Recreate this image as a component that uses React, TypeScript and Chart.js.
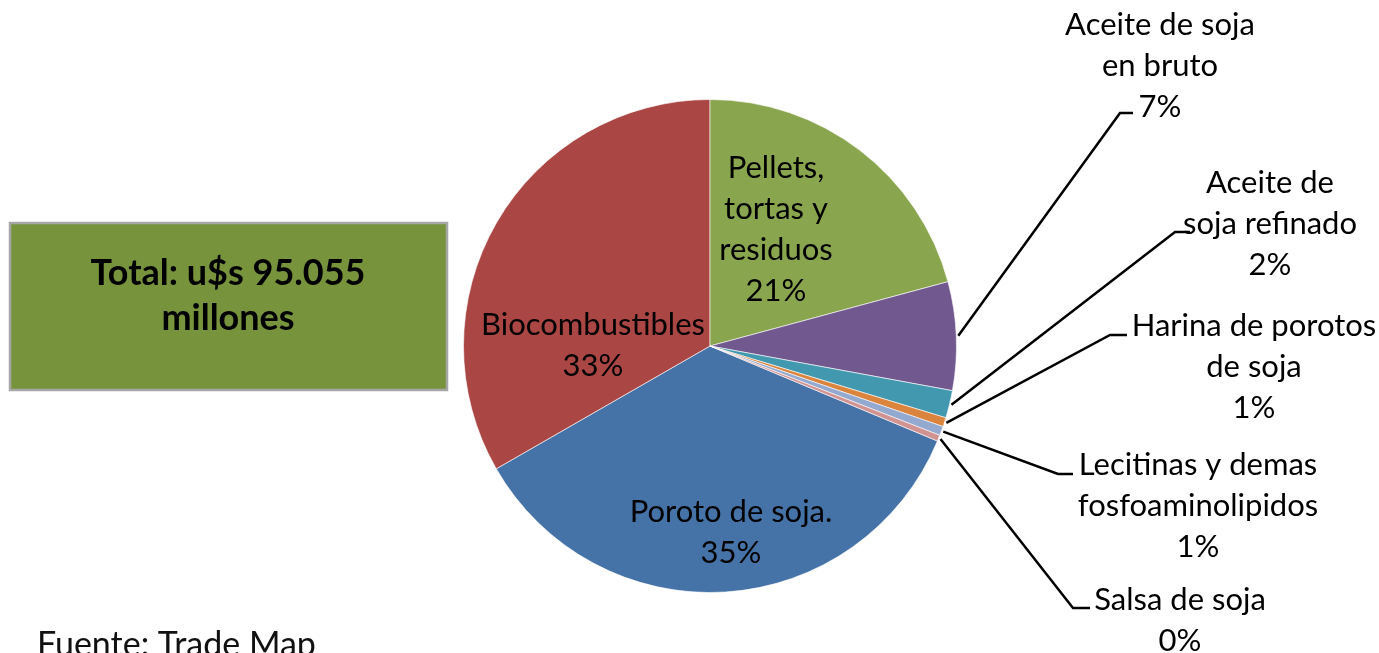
import React, { useEffect, useRef } from 'react';
import { Chart, registerables } from 'chart.js';
Chart.register(...registerables);

// ---- Data ----
const categories = [
  'Poroto de soja.',
  'Biocombustibles',
  'Pellets, tortas y residuos',
  'Aceite de soja en bruto',
  'Aceite de soja refinado',
  'Harina de porotos de soja',
  'Lecitinas y demas fosfoaminolipidos',
  'Salsa de soja',
];
const labelLines = [
  ['Poroto de soja.'],
  ['Biocombustibles'],
  ['Pellets,', 'tortas y', 'residuos'],
  ['Aceite de soja', 'en bruto'],
  ['Aceite de', 'soja refinado'],
  ['Harina de porotos', 'de soja'],
  ['Lecitinas y demas', 'fosfoaminolipidos'],
  ['Salsa de soja'],
];
const shares = [35.4, 33.3, 20.8, 7.1, 1.8, 0.6, 0.6, 0.4];
const colors = ['#4572A7', '#AA4643', '#89A54E', '#71588F', '#4198AF', '#DB843D', '#93A9CF', '#D19392'];
const totalText = ['Total: u$s 95.055', 'millones'];
const sourceText = 'Fuente: Trade Map';

// ---- Label layout (text positions, not marks) ----
type Lay = { x: number; y: number; elbow?: [number, number]; end?: [number, number] };
const labelLayout: Lay[] = [
  { x: 731, y: 512 },
  { x: 593, y: 325 },
  { x: 776, y: 168 },
  { x: 1160, y: 25, elbow: [1120, 113], end: [1133, 113] },
  { x: 1270, y: 183, elbow: [1175, 232], end: [1190, 232] },
  { x: 1254, y: 326, elbow: [1110, 335], end: [1127, 335] },
  { x: 1198, y: 465, elbow: [1058, 474], end: [1073, 474] },
  { x: 1180, y: 600, elbow: [1073, 608], end: [1090, 608] },
];
const LINE_H = 41;
const FONT = '31px Lato';

const overlayPlugin = {
  id: 'overlay',
  afterDraw(chart: any) {
    const ctx = chart.ctx as CanvasRenderingContext2D;
    const meta = chart.getDatasetMeta(0);
    const data = chart.data.datasets[0].data as number[];
    const total = data.reduce((a, b) => a + b, 0);
    ctx.save();
    // labels
    meta.data.forEach((arc: any, i: number) => {
      const p = arc.getProps(['x', 'y', 'startAngle', 'endAngle', 'outerRadius'], true);
      const lay = labelLayout[i];
      const pct = Math.round((data[i] / total) * 100) + '%';
      const lines = [...labelLines[i], pct];
      if (lay.elbow && lay.end) {
        const mid = (p.startAngle + p.endAngle) / 2;
        const sx = p.x + Math.cos(mid) * (p.outerRadius + 2);
        const sy = p.y + Math.sin(mid) * (p.outerRadius + 2);
        ctx.strokeStyle = '#000';
        ctx.lineWidth = 2.5;
        ctx.beginPath();
        ctx.moveTo(sx, sy);
        ctx.lineTo(lay.elbow[0], lay.elbow[1]);
        ctx.lineTo(lay.end[0], lay.end[1]);
        ctx.stroke();
      }
      ctx.fillStyle = '#000';
      ctx.font = FONT;
      ctx.textAlign = 'center';
      ctx.textBaseline = 'middle';
      lines.forEach((t, k) => ctx.fillText(t, lay.x, lay.y + k * LINE_H));
    });
    // total box
    ctx.fillStyle = '#77933C';
    ctx.fillRect(10, 223, 437, 167);
    ctx.strokeStyle = '#A6A6A6';
    ctx.lineWidth = 2.5;
    ctx.strokeRect(10, 223, 437, 167);
    ctx.fillStyle = '#000';
    ctx.font = 'bold 36px Lato';
    ctx.textAlign = 'center';
    ctx.textBaseline = 'middle';
    ctx.fillText(totalText[0], 228, 273);
    ctx.fillText(totalText[1], 228, 318);
    // source
    ctx.font = '34px Lato';
    ctx.textAlign = 'left';
    ctx.textBaseline = 'alphabetic';
    ctx.fillStyle = '#111';
    ctx.fillText(sourceText, 37, 656);
    ctx.restore();
  },
};

export default function App() {
  const ref = useRef<HTMLCanvasElement>(null);
  useEffect(() => {
    document.body.style.margin = '0';
    const total = shares.reduce((a, b) => a + b, 0);
    const rotation = -((shares[0] + shares[1]) / total) * 360;
    const chart = new Chart(ref.current!, {
      type: 'pie',
      data: {
        labels: categories,
        datasets: [
          {
            data: shares,
            backgroundColor: colors,
            borderColor: 'rgba(255,255,255,0.6)',
            borderWidth: 1,
          },
        ],
      },
      options: {
        animation: false,
        responsive: false,
        devicePixelRatio: 1,
        rotation,
        layout: { padding: { left: 463, right: 422, top: 99, bottom: 60 } },
        plugins: { legend: { display: false }, tooltip: { enabled: false } },
      },
      plugins: [overlayPlugin],
    });
    return () => chart.destroy();
  }, []);
  return (
    <div style={{ width: 1379, height: 653, background: '#fff' }}>
      <canvas ref={ref} width={1379} height={653} style={{ display: 'block' }} />
    </div>
  );
}
